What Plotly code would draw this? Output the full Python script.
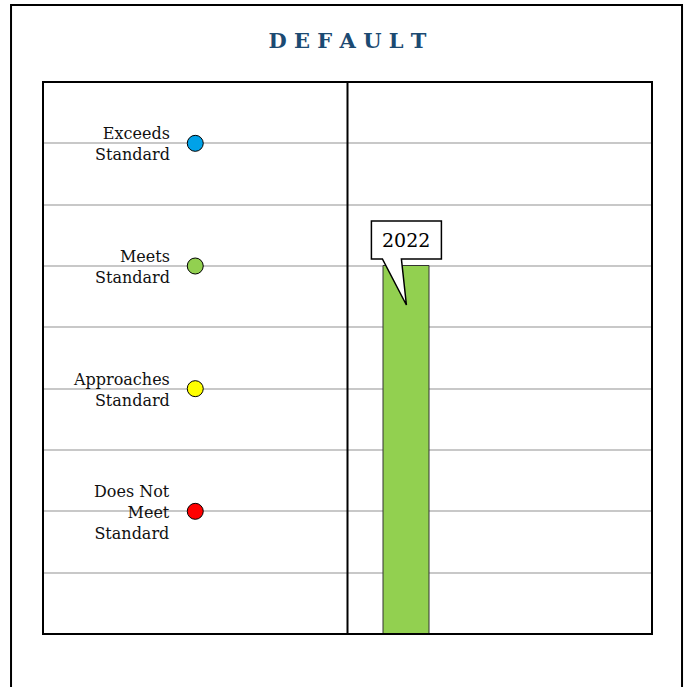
import plotly.graph_objects as go
from plotly.subplots import make_subplots

# Data
levels = ["Does Not<br>Meet<br>Standard", "Approaches<br>Standard", "Meets<br>Standard", "Exceeds<br>Standard"]
level_values = [1, 2, 3, 4]
level_colors = ["#ff0000", "#ffff00", "#92d050", "#00a2e8"]
years = ["2022"]
scores = [3]
bar_colors = ["#92d050"]

FONT = "DejaVu Serif"

fig = make_subplots(rows=1, cols=2, shared_yaxes=True, horizontal_spacing=0)

# Left panel: level markers
fig.add_trace(go.Scatter(
    x=[0.5] * len(level_values), y=level_values, mode="markers",
    marker=dict(size=16, color=level_colors, line=dict(color="black", width=1)),
    hoverinfo="skip", showlegend=False), row=1, col=1)

for lab, v in zip(levels, level_values):
    fig.add_annotation(x=0.5, y=v, xref="x", yref="y", text=lab, showarrow=False,
                       xanchor="right", yanchor="middle", align="right", xshift=-23, yshift=-1,
                       font=dict(family=FONT, size=16, color="#111"))

# Right panel: bar
fig.add_trace(go.Bar(
    x=years, y=scores, width=0.5,
    marker=dict(color=bar_colors, line=dict(color="#333", width=1)),
    hoverinfo="skip", showlegend=False), row=1, col=2)

# Callout for the bar
for i, (yr, s) in enumerate(zip(years, scores)):
    fig.add_shape(type="path", xref="x2", yref="y", xsizemode="pixel", ysizemode="pixel",
                  xanchor=i, yanchor=s,
                  path="M -35,45 L 35,45 L 35,7 L -5,7 L 0,-39 L -24,7 L -35,7 Z",
                  fillcolor="white", line=dict(color="black", width=1.5), layer="above")
    fig.add_annotation(x=i, y=s, xref="x2", yref="y", text=yr, showarrow=False,
                       yshift=26, xanchor="center", yanchor="middle",
                       font=dict(family=FONT, size=19, color="black"))

grid = dict(showgrid=True, gridcolor="#c8c8c8", gridwidth=2, dtick=0.5, tick0=0,
            range=[0, 4.5], showticklabels=False, zeroline=False, ticks="")
fig.update_yaxes(**grid)
fig.update_xaxes(showgrid=False, zeroline=False, showticklabels=False, ticks="")
fig.update_xaxes(range=[0, 1], row=1, col=1)
fig.update_xaxes(type="category", range=[-0.633, 2.639], row=1, col=2)

# Plot frame and divider
fig.add_shape(type="rect", xref="paper", yref="paper", x0=0, x1=1, y0=0, y1=1,
              line=dict(color="black", width=2), layer="above")
fig.add_shape(type="line", xref="paper", yref="paper", x0=0.5, x1=0.5, y0=0, y1=1,
              line=dict(color="black", width=2), layer="above")
# Outer border
fig.add_shape(type="rect", xref="paper", yref="paper", x0=-0.0525, x1=1.0493, y0=-0.11, y1=1.1395,
              line=dict(color="black", width=2), layer="above")

fig.update_layout(
    width=689, height=687,
    margin=dict(l=43, r=37, t=82, b=53),
    paper_bgcolor="white", plot_bgcolor="white",
    title=dict(text="<b>D E F A U L T</b>", x=0.5, xref="paper", y=1 - 41 / 687, yanchor="middle",
               font=dict(family=FONT, size=21, color="#1b4a72")),
    bargap=0,
)

fig.write_html("out.html", config={"displayModeBar": False},
               post_script="document.body.style.margin='0';document.body.style.overflow='hidden';")
